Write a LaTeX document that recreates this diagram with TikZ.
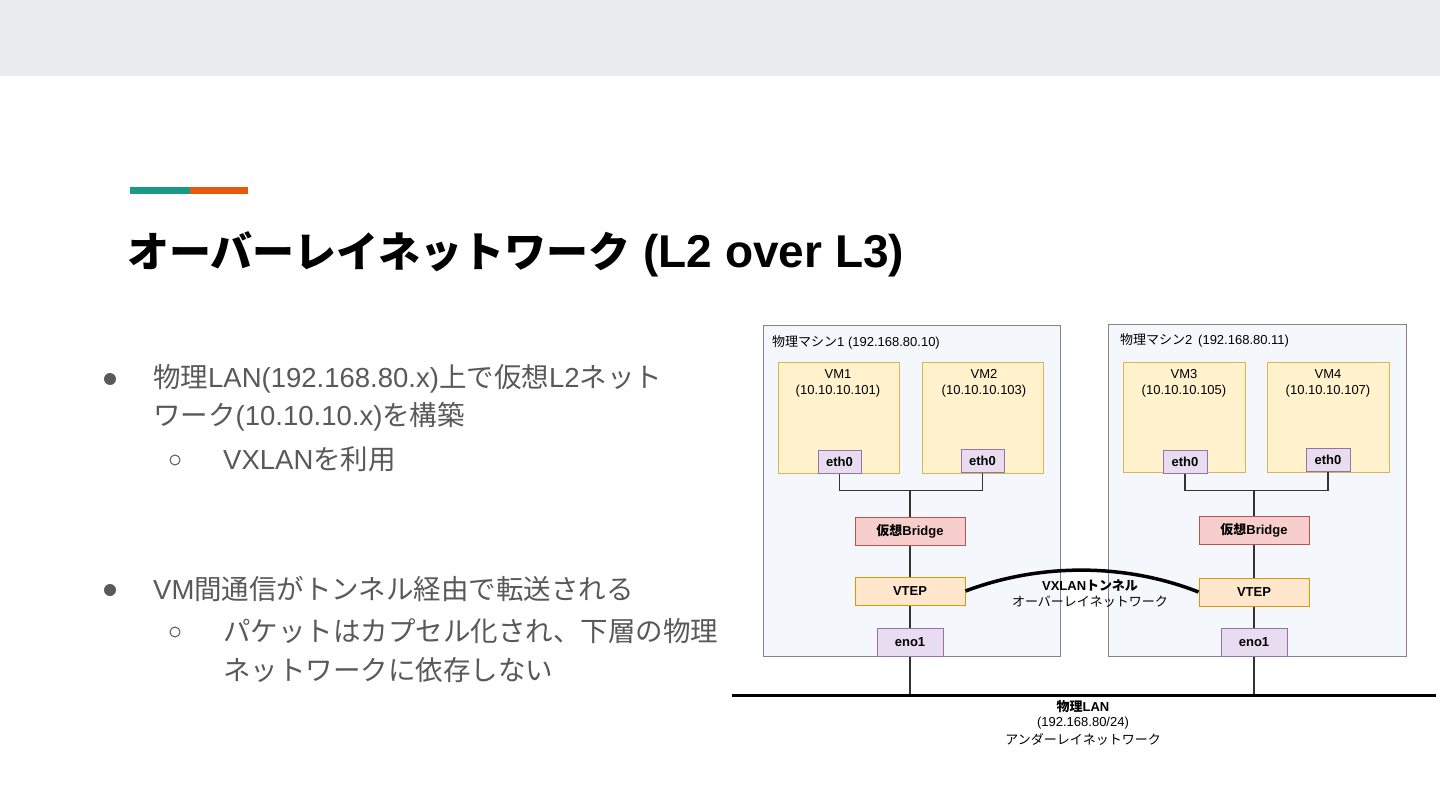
\documentclass[tikz,border=0pt]{standalone}
\usepackage{fontspec}
\setmainfont{Liberation Sans}
\newfontfamily\jp{Noto Sans CJK JP}
\newcommand\J[1]{{\jp #1}}
\definecolor{bandgray}{HTML}{E8ECEC}
\definecolor{accteal}{HTML}{1A9988}
\definecolor{accorange}{HTML}{E8590C}
\definecolor{bodygray}{HTML}{595959}
\definecolor{machfill}{HTML}{F4F8FD}
\definecolor{machdraw}{HTML}{85818F}
\definecolor{vmfill}{HTML}{FFF2CC}
\definecolor{vmdraw}{HTML}{D6B656}
\definecolor{iffill}{HTML}{E8DDF0}
\definecolor{ifdraw}{HTML}{9673A6}
\definecolor{brfill}{HTML}{F8CECC}
\definecolor{brdraw}{HTML}{B85450}
\definecolor{vtfill}{HTML}{FFE6CC}
\definecolor{vtdraw}{HTML}{D79B00}
\definecolor{wire}{HTML}{333333}
\begin{document}
\begin{tikzpicture}[x=1pt,y=-1pt,
  machine/.style={draw=machdraw,fill=machfill,line width=1pt,inner sep=0pt,anchor=north west},
  vmbox/.style={draw=vmdraw,fill=vmfill,line width=1pt,inner sep=0pt,anchor=north west},
  comp/.style={line width=1pt,inner sep=0pt,font=\fontsize{13}{16}\selectfont\bfseries},
  iface/.style={comp,draw=ifdraw,fill=iffill},
  bridgebox/.style={comp,draw=brdraw,fill=brfill,minimum width=110,minimum height=28},
  vtepbox/.style={comp,draw=vtdraw,fill=vtfill,minimum width=110,minimum height=28},
  dlabel/.style={inner sep=0pt,align=center,font=\fontsize{13}{16}\selectfont},
  wirestyle/.style={draw=wire,line width=1.1pt},
  bodytext/.style={inner sep=0pt,anchor=base west,text=bodygray,font=\fontsize{27.5}{38}\selectfont},
  bigdot/.style={circle,fill=bodygray,inner sep=0pt,minimum size=12},
  smalldot/.style={circle,draw=bodygray,line width=1pt,inner sep=0pt,minimum size=10}
]
\useasboundingbox (0,0) rectangle (1440,810);
\fill[white] (0,0) rectangle (1440,810);
\fill[bandgray] (0,0) rectangle (1440,76);
% accent bar
\fill[accteal] (130,187) rectangle (190,194);
\fill[accorange] (190,187) rectangle (248,194);
% title
\node[inner sep=0pt,anchor=base west,font=\fontsize{46}{46}\selectfont\bfseries] (title) at (127,268) {{\jp\fontsize{42}{42}\selectfont オーバーレイネットワーク} (L2 over L3)};
% bullets
\node[bigdot] (b1) at (110,379) {};
\node[bodytext] (t1a) at (153,387) {\J{物理}LAN(192.168.80.x)\J{上で仮想}L2\J{ネット}};
\node[bodytext] (t1b) at (153,425) {\J{ワーク}(10.10.10.x)\J{を構築}};
\node[smalldot] (s1) at (175,460) {};
\node[bodytext] (t1c) at (223,469) {VXLAN\J{を利用}};
\node[bigdot] (b2) at (110,590) {};
\node[bodytext] (t2a) at (153,599) {VM\J{間通信がトンネル経由で転送される}};
\node[smalldot] (s2) at (175,632) {};
\node[bodytext] (t2b) at (223,641) {\J{パケットはカプセル化され、下層の物理}};
\node[bodytext] (t2c) at (223,680) {\J{ネットワークに依存しない}};
% machines
\node[machine,minimum width=297,minimum height=331] (m1) at (763,325) {};
\node[machine,minimum width=298,minimum height=332] (m2) at (1108,324) {};
\node[dlabel,anchor=west] (m1t) at (772,342) {\J{物理マシン}1 (192.168.80.10)};
\node[dlabel,anchor=west] (m2t) at (1120,340) {\J{物理マシン}2 \,(192.168.80.11)};
% VMs
\node[vmbox,minimum width=121,minimum height=111] (vm1) at (778,362) {};
\node[vmbox,minimum width=121,minimum height=111] (vm2) at (922,362) {};
\node[vmbox,minimum width=122,minimum height=110] (vm3) at (1123,362) {};
\node[vmbox,minimum width=122,minimum height=110] (vm4) at (1267,362) {};
\node[dlabel] (vm1t) at (838,383) {VM1\\(10.10.10.101)};
\node[dlabel] (vm2t) at (984,383) {VM2\\(10.10.10.103)};
\node[dlabel] (vm3t) at (1184,383) {VM3\\(10.10.10.105)};
\node[dlabel] (vm4t) at (1328,383) {VM4\\(10.10.10.107)};
\node[iface,minimum width=43,minimum height=23] (e1) at (839.5,461.5) {eth0};
\node[iface,minimum width=43,minimum height=23] (e2) at (982.5,460.5) {eth0};
\node[iface,minimum width=44,minimum height=23] (e3) at (1185,461.5) {eth0};
\node[iface,minimum width=44,minimum height=23] (e4) at (1328,459.5) {eth0};
% bridges, vteps, nics
\node[bridgebox] (br1) at (910,531) {\J{仮想}Bridge};
\node[bridgebox] (br2) at (1254,530) {\J{仮想}Bridge};
\node[vtepbox] (vt1) at (910,591) {VTEP};
\node[vtepbox] (vt2) at (1254,592) {VTEP};
\node[iface,minimum width=66,minimum height=28] (n1) at (910,642) {eno1};
\node[iface,minimum width=66,minimum height=28] (n2) at (1254,642) {eno1};
% wiring
\coordinate (j1) at (910,490.5);
\coordinate (j2) at (1254,490.5);
\coordinate (lanL) at (732,695);
\coordinate (lanR) at (1436,695);
\draw[wirestyle] (e1.south) |- (j1) -| (e2.south);
\draw[wirestyle] (e3.south) |- (j2) -| (e4.south);
\draw[wirestyle] (j1) -- (br1.north);
\draw[wirestyle] (j2) -- (br2.north);
\draw[wirestyle] (br1) -- (vt1);
\draw[wirestyle] (br2) -- (vt2);
\draw[wirestyle] (vt1) -- (n1);
\draw[wirestyle] (vt2) -- (n2);
\draw[wirestyle] (n1.south) -- (n1.south |- lanL);
\draw[wirestyle] (n2.south) -- (n2.south |- lanL);
\draw[line width=3pt] (lanL) -- (lanR);
% tunnel
\draw[line width=3.5pt] (vt1.east) .. controls (1040,563) and (1125,563) .. (vt2.west);
\node[dlabel,font=\fontsize{13}{16}\selectfont\bfseries] (tunt) at (1090,586) {VXLAN\J{トンネル}};
\node[dlabel] (tuns) at (1090,602) {\J{オーバーレイネットワーク}};
% LAN label
\node[dlabel,font=\fontsize{13}{16}\selectfont\bfseries] (lant) at (1083,707) {\J{物理}LAN};
\node[dlabel] (lans) at (1083,723) {(192.168.80/24)};
\node[dlabel] (lanu) at (1083,739) {\J{アンダーレイネットワーク}};
\end{tikzpicture}
\end{document}
